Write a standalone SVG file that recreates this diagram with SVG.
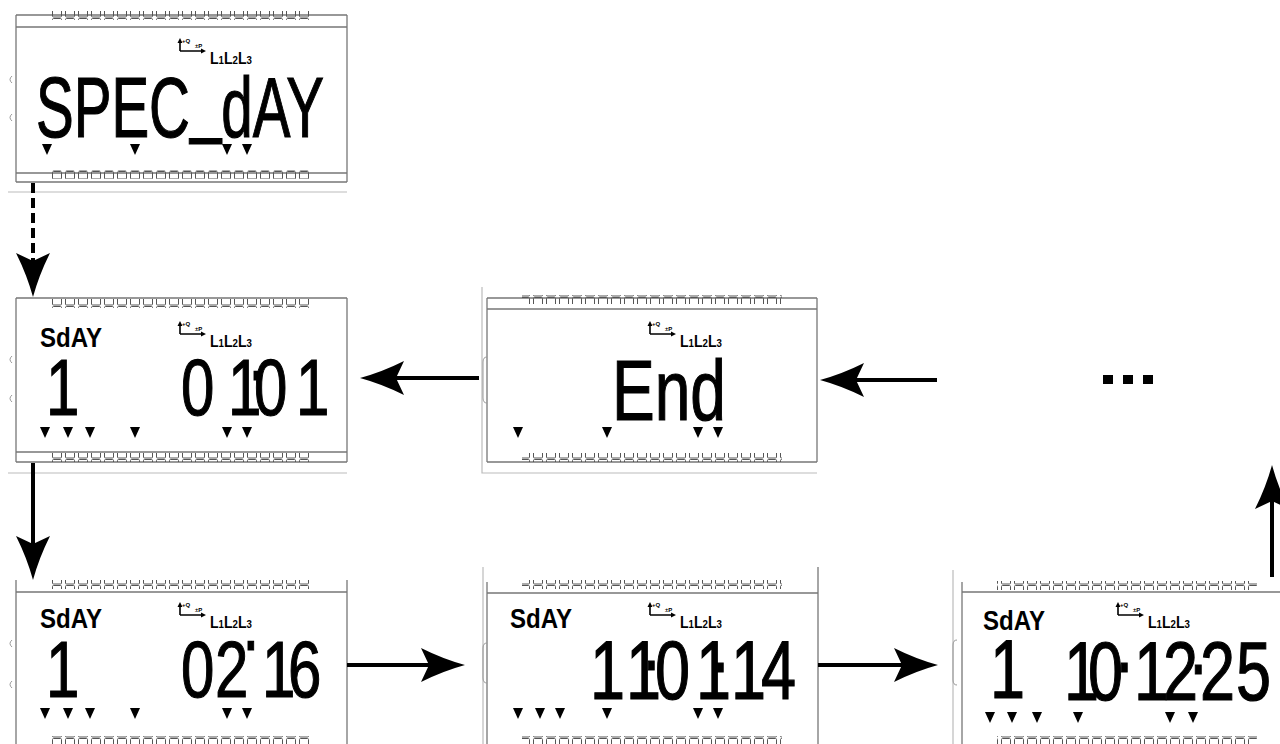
<svg xmlns="http://www.w3.org/2000/svg" xmlns:xlink="http://www.w3.org/1999/xlink" width="1280" height="744" viewBox="0 0 1280 744">
<style>
.fr{stroke:#777;stroke-width:1.3;fill:none}
.gr{stroke:#bbb;stroke-width:1.2;fill:none}
.br{stroke:#999;stroke-width:1;fill:none}
.big{font-family:"Liberation Sans",Arial,sans-serif;font-size:86px;fill:#000;stroke:#000;stroke-width:1.2}
.seg{font-family:"Liberation Sans",Arial,sans-serif;font-size:80px;fill:#000;stroke:#000;stroke-width:1.2}
.seg2{font-family:"Liberation Sans",Arial,sans-serif;font-size:84px;fill:#000;stroke:#000;stroke-width:1.2}
.sd{font-family:"Liberation Sans",Arial,sans-serif;font-size:28px;font-weight:bold;fill:#000}
.ll{font-family:"Liberation Sans",Arial,sans-serif;font-size:16px;font-weight:bold;fill:#000}
.tiny{font-family:"Liberation Sans",Arial,sans-serif;font-size:6px;font-weight:bold;fill:#000}
.con{stroke:#000;stroke-width:4;fill:none;marker-end:url(#ah)}
</style>
<defs>
<pattern id="teeth" patternUnits="userSpaceOnUse" x="0" y="0" width="13" height="9">
<rect x="0.5" y="0.5" width="9" height="7.5" rx="1" fill="none" stroke="#555" stroke-width="1"/>
</pattern>
<path id="tri" d="M-5,0 L5,0 L0,11 Z" fill="#000"/>
<g id="ico">
<path d="M0,0 V-10 M0,0 H24" stroke="#000" stroke-width="1.6" fill="none"/>
<path d="M-2.5,-8 L0,-13 L2.5,-8 Z M21,-2.5 L26,0 L21,2.5 Z" fill="#000"/>
<text class="tiny" x="2" y="-8">+Q</text>
<text class="tiny" x="15" y="-3">±P</text>
</g>
<marker id="ah" markerUnits="userSpaceOnUse" markerWidth="50" markerHeight="40" refX="12" refY="20" orient="auto" viewBox="0 0 50 40">
<path d="M44,20 Q22,14 0,3 L8,20 L0,37 Q22,26 44,20 Z" fill="#000"/>
</marker>
</defs>
<rect width="1280" height="744" fill="#fff"/>

<g id="p1">
<path class="fr" d="M16,15 H347 M16,27 H347 M16,15 V182 M347,15 V182 M16,173 H347 M16,182 H347"/>
<rect x="52" y="11" width="260" height="9" fill="url(#teeth)"/>
<rect x="52" y="170" width="260" height="9" fill="url(#teeth)"/>
<path class="gr" d="M8,192 H347"/>
<path class="br" d="M12,76 q-4,3.5 0,7 M12,114 q-4,3.5 0,7"/>
<use xlink:href="#ico" x="180" y="51"/>
<text class="ll" x="210" y="64" textLength="42" lengthAdjust="spacingAndGlyphs">L<tspan font-size="11">1</tspan>L<tspan font-size="11">2</tspan>L<tspan font-size="11">3</tspan></text>
<text class="big" x="36" y="137" textLength="288" lengthAdjust="spacingAndGlyphs">SPEC<tspan dy="-10">_</tspan><tspan dy="10">dAY</tspan></text>
<use xlink:href="#tri" x="47" y="144"/><use xlink:href="#tri" x="135" y="144"/><use xlink:href="#tri" x="227" y="144"/><use xlink:href="#tri" x="247" y="144"/>
</g>

<g id="p2">
<path class="fr" d="M16,298 H347 M16,298 V462 M347,298 V462 M16,452 H347 M16,462 H347"/>
<rect x="52" y="299" width="260" height="9" fill="url(#teeth)"/>
<rect x="52" y="453" width="260" height="9" fill="url(#teeth)"/>
<path class="gr" d="M8,473 H347"/>
<path class="br" d="M12,356 q-4,3.5 0,7 M12,395 q-4,3.5 0,7"/>
<text class="sd" x="40" y="347" textLength="62" lengthAdjust="spacingAndGlyphs">SdAY</text>
<use xlink:href="#ico" x="180" y="334"/>
<text class="ll" x="210" y="347" textLength="42" lengthAdjust="spacingAndGlyphs">L<tspan font-size="11">1</tspan>L<tspan font-size="11">2</tspan>L<tspan font-size="11">3</tspan></text>
<text class="seg" transform="matrix(0.75 0 0 1 0 0)" x="61.33" y="415">1</text>
<text class="seg" transform="matrix(0.75 0 0 1 0 0)" x="241.33 304 331.33 338.67 394.67" y="415 415 380 415 415">01.01</text>
<use xlink:href="#tri" x="45" y="427"/><use xlink:href="#tri" x="68" y="427"/><use xlink:href="#tri" x="90" y="427"/><use xlink:href="#tri" x="135" y="427"/><use xlink:href="#tri" x="227" y="427"/><use xlink:href="#tri" x="247" y="427"/>
</g>

<g id="p3">
<path class="fr" d="M487,298 H817 M487,309 H817 M487,298 V462 M817,298 V462 M487,462 H817"/>
<rect x="522" y="295" width="260" height="9" fill="url(#teeth)"/>
<rect x="522" y="453" width="260" height="9" fill="url(#teeth)"/>
<path class="gr" d="M482,287 V473 H817"/>
<path class="br" d="M487,357 q-4,0 -4,5 v36 q0,5 4,5"/>
<use xlink:href="#ico" x="650" y="334"/>
<text class="ll" x="680" y="347" textLength="42" lengthAdjust="spacingAndGlyphs">L<tspan font-size="11">1</tspan>L<tspan font-size="11">2</tspan>L<tspan font-size="11">3</tspan></text>
<text class="big" x="612" y="420" textLength="114" lengthAdjust="spacingAndGlyphs">End</text>
<use xlink:href="#tri" x="518" y="427"/><use xlink:href="#tri" x="607" y="427"/><use xlink:href="#tri" x="698" y="427"/><use xlink:href="#tri" x="718" y="427"/>
</g>

<g id="p4">
<path class="fr" d="M16,592 H347 M16,580 V744 M347,580 V744"/>
<rect x="52" y="580" width="260" height="9" fill="url(#teeth)"/>
<rect x="52" y="736" width="260" height="9" fill="url(#teeth)"/>
<path class="br" d="M12,640 q-4,3.5 0,7 M12,681 q-4,3.5 0,7"/>
<text class="sd" x="40" y="628" textLength="62" lengthAdjust="spacingAndGlyphs">SdAY</text>
<use xlink:href="#ico" x="180" y="615"/>
<text class="ll" x="210" y="628" textLength="42" lengthAdjust="spacingAndGlyphs">L<tspan font-size="11">1</tspan>L<tspan font-size="11">2</tspan>L<tspan font-size="11">3</tspan></text>
<text class="seg" transform="matrix(0.75 0 0 1 0 0)" x="61.33" y="697">1</text>
<text class="seg" transform="matrix(0.75 0 0 1 0 0)" x="241.33 286.67 323.33 349.33 384" y="697 697 650 697 697">02.16</text>
<use xlink:href="#tri" x="45" y="708"/><use xlink:href="#tri" x="68" y="708"/><use xlink:href="#tri" x="90" y="708"/><use xlink:href="#tri" x="135" y="708"/><use xlink:href="#tri" x="227" y="708"/><use xlink:href="#tri" x="247" y="708"/>
</g>

<g id="p5">
<path class="fr" d="M487,593 H818 M487,582 V744 M818,567 V744"/>
<path class="gr" d="M483,567 V744"/>
<rect x="522" y="580" width="260" height="9" fill="url(#teeth)"/>
<rect x="522" y="736" width="260" height="9" fill="url(#teeth)"/>
<path class="br" d="M487,643 q-4,0 -4,5 v30 q0,5 4,5"/>
<text class="sd" x="510" y="628" textLength="62" lengthAdjust="spacingAndGlyphs">SdAY</text>
<use xlink:href="#ico" x="650" y="615"/>
<text class="ll" x="680" y="628" textLength="42" lengthAdjust="spacingAndGlyphs">L<tspan font-size="11">1</tspan>L<tspan font-size="11">2</tspan>L<tspan font-size="11">3</tspan></text>
<text class="seg2" transform="matrix(0.75 0 0 1 0 0)" x="786.67 834.67 856.67 873.33 928 948.67 974.67 1014.67" y="699 699 670 699 699 672 699 699">11.01.14</text>
<use xlink:href="#tri" x="518" y="708"/><use xlink:href="#tri" x="540" y="708"/><use xlink:href="#tri" x="560" y="708"/><use xlink:href="#tri" x="607" y="708"/><use xlink:href="#tri" x="698" y="708"/><use xlink:href="#tri" x="718" y="708"/>
</g>

<g id="p6">
<path class="fr" d="M962,592 H1280 M962,582 V744"/>
<path class="gr" d="M953,570 V744"/>
<rect x="997" y="581" width="260" height="9" fill="url(#teeth)"/>
<rect x="997" y="736" width="260" height="9" fill="url(#teeth)"/>
<path class="br" d="M957,640 q-4,0 -4,5 v35 q0,5 4,5"/>
<text class="sd" x="983" y="630" textLength="62" lengthAdjust="spacingAndGlyphs">SdAY</text>
<use xlink:href="#ico" x="1118" y="615"/>
<text class="ll" x="1148" y="628" textLength="42" lengthAdjust="spacingAndGlyphs">L<tspan font-size="11">1</tspan>L<tspan font-size="11">2</tspan>L<tspan font-size="11">3</tspan></text>
<text class="seg2" transform="matrix(0.75 0 0 1 0 0)" x="1320" y="698">1</text>
<text class="seg2" transform="matrix(0.75 0 0 1 0 0)" x="1418.67 1450.67 1487.33 1512 1550.67 1586 1600 1648" y="700 700 672 700 700 674 700 700">10.12.25</text>
<use xlink:href="#tri" x="990" y="712"/><use xlink:href="#tri" x="1012" y="712"/><use xlink:href="#tri" x="1037" y="712"/><use xlink:href="#tri" x="1078" y="712"/><use xlink:href="#tri" x="1170" y="712"/><use xlink:href="#tri" x="1193" y="712"/>
</g>

<g id="more">
<rect x="1103" y="375" width="10" height="9"/>
<rect x="1123" y="375" width="10" height="9"/>
<rect x="1143" y="375" width="10" height="9"/>
</g>

<g id="connectors">
<path class="con" d="M33,183 V265" stroke-dasharray="10,5" stroke-width="5"/>
<path class="con" d="M33,463 V548"/>
<path class="con" d="M479,378 H392"/>
<path class="con" d="M937,380 H852"/>
<path class="con" d="M347,665 H433"/>
<path class="con" d="M818,665 H906"/>
<path class="con" d="M1272,577 V497"/>
</g>
</svg>
